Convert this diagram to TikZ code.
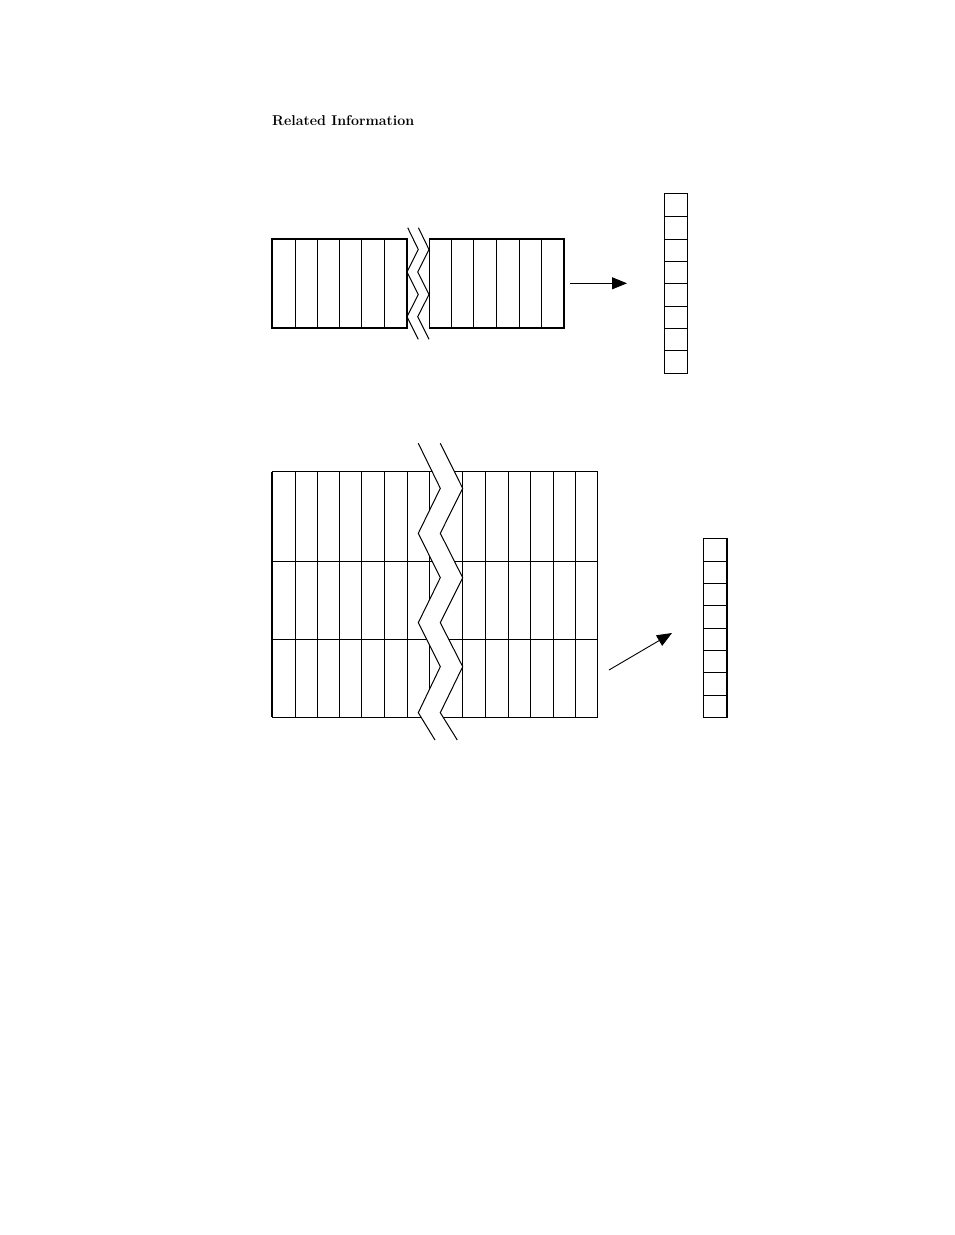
\documentclass[tikz,border=0pt]{standalone}
\usetikzlibrary{arrows.meta}
\begin{document}
\begin{tikzpicture}[x=1pt,y=-1pt,
  ln/.style={line width=1.1pt,line join=miter},
  thin/.style={line width=0.9pt},
  arr/.style={line width=0.9pt,-{Triangle[length=15pt,width=12pt]}},
  zig/.style={line width=1pt}]
\useasboundingbox (0,0) rectangle (954,1235);
\node[anchor=base west,inner sep=0pt,font=\fontsize{14.2}{16}\selectfont\bfseries] (title) at (272,125.7) {Related Information};
% ---------- top figure ----------
\draw[ln] (272,239) rectangle (407,328);
\foreach \x in {295,317.7,339.3,361.7,384.3} \draw[thin] (\x,239) -- (\x,328);
\draw[ln] (429.3,239) rectangle (564,328);
\foreach \x in {451.7,473.7,496.7,519.3,541.7} \draw[thin] (\x,239) -- (\x,328);
\draw[zig] (407.7,227.7) -- (418.3,249.5) -- (407,272) -- (418.3,294.5) -- (407,316.7) -- (418.3,339.3);
\draw[zig] (418.4,227.7) -- (429,249.5) -- (417.7,272) -- (429,294.5) -- (417.7,316.7) -- (429,339.3);
% top column
\draw[ln] (664.7,193.3) rectangle (687.7,373.3);
\foreach \y in {216,239,261.3,283.7,306,328.3,350.7} \draw[thin] (664.7,\y) -- (687.7,\y);
\coordinate (a1s) at (570,283.3);
\coordinate (a1e) at (627,283.3);
\draw[arr] (a1s) -- (a1e);
% ---------- bottom figure ----------
\foreach \y in {471.7,561,639.3,717.3} \draw[thin] (272,\y) -- (597.7,\y);
\draw[ln] (272,471.7) -- (272,717.3);
\draw[ln] (597.7,471.7) -- (597.7,717.3);
\foreach \x in {295,317.7,339.3,361.7,384.3,407,429.3,462.7,485.7,508.3,530.3,553.3,575.3} \draw[thin] (\x,471.7) -- (\x,717.3);
\fill[white] (418.3,443.3) -- (440.3,488.3) -- (418.3,533.3) -- (440.3,577.7) -- (418.3,622.7) -- (440.3,666.7) -- (418.3,712.7) -- (435,740)
  -- (457.3,740) -- (440.3,712.7) -- (462.7,666.7) -- (440.3,622.7) -- (462.7,577.7) -- (440.3,533.3) -- (462.7,488.3) -- (440.3,443.3) -- cycle;
\draw[zig] (418.3,443.3) -- (440.3,488.3) -- (418.3,533.3) -- (440.3,577.7) -- (418.3,622.7) -- (440.3,666.7) -- (418.3,712.7) -- (435,740);
\draw[zig] (440.3,443.3) -- (462.7,488.3) -- (440.3,533.3) -- (462.7,577.7) -- (440.3,622.7) -- (462.7,666.7) -- (440.3,712.7) -- (457.3,740);
% bottom column
\draw[ln] (703.7,538.3) rectangle (727,717.3);
\foreach \y in {561,583.3,605.7,628,650.3,672.7,695} \draw[thin] (703.7,\y) -- (727,\y);
\coordinate (a2s) at (609,670);
\coordinate (a2e) at (672,633);
\draw[arr] (a2s) -- (a2e);
\end{tikzpicture}
\end{document}
